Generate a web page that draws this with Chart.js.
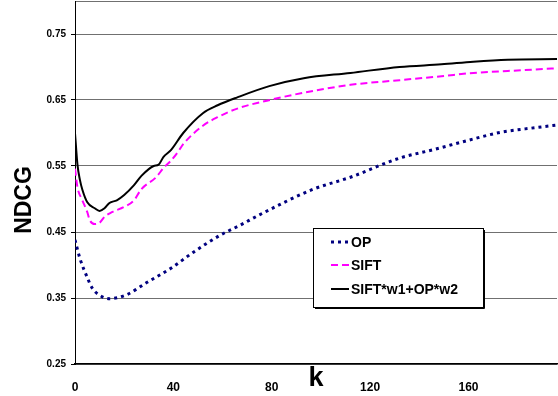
<!DOCTYPE html>
<html>
<head>
<meta charset="utf-8">
<script src="https://cdn.jsdelivr.net/npm/chart.js@4/dist/chart.umd.min.js"></script>
<style>
html,body{margin:0;padding:0;background:#fff;}
#wrap{width:558px;height:396px;position:relative;}
</style>
</head>
<body>
<div id="wrap"><canvas id="c"></canvas></div>
<script>
// ---- data ----
const xTicks = [0, 40, 80, 120, 160];
const yTicks = [0.25, 0.35, 0.45, 0.55, 0.65, 0.75];

const kOP   = [0, 2, 5, 7, 11, 14, 21, 29, 39, 48, 59, 67, 75, 97, 112, 132, 146, 160, 173, 187, 196];
const vOP   = [0.438, 0.410, 0.381, 0.365, 0.352, 0.349, 0.355, 0.373, 0.395, 0.419, 0.445, 0.460, 0.476, 0.515, 0.533, 0.562, 0.575, 0.589, 0.601, 0.608, 0.612];

const kSIFT = [0, 1, 3, 5, 6, 8, 10, 12, 15, 20, 24, 27, 33, 36, 39, 42, 44, 52, 58, 66, 78, 93, 112, 132, 149, 162, 176, 196];
const vSIFT = [0.546, 0.518, 0.498, 0.480, 0.468, 0.462, 0.464, 0.473, 0.480, 0.488, 0.498, 0.515, 0.533, 0.547, 0.558, 0.572, 0.583, 0.611, 0.624, 0.637, 0.649, 0.661, 0.673, 0.680, 0.686, 0.691, 0.694, 0.698];

const kComb = [0, 1, 2, 3, 5, 8, 10, 12, 14, 17, 20, 24, 27, 32, 34, 36, 39, 44, 52, 58, 66, 79, 93, 112, 132, 149, 162, 176, 196];
const vComb = [0.600, 0.552, 0.529, 0.514, 0.495, 0.486, 0.482, 0.486, 0.494, 0.498, 0.506, 0.521, 0.535, 0.550, 0.552, 0.564, 0.574, 0.600, 0.630, 0.642, 0.654, 0.671, 0.683, 0.691, 0.700, 0.704, 0.708, 0.711, 0.712];

const seriesNames = ['OP', 'SIFT', 'SIFT*w1+OP*w2'];
const xTitle = 'k';
const yTitle = 'NDCG';

function pts(ks, vs){ return ks.map((k,i)=>({x:k, y:vs[i]})); }

const FONT = '"Liberation Sans", Arial, sans-serif';

// custom legend drawn inside plot area
const boxLegend = {
  id: 'boxLegend',
  afterDraw(chart){
    const ctx = chart.ctx;
    const x0 = 313, y0 = 228, w = 170, h = 79;
    ctx.save();
    ctx.fillStyle = '#fff';
    ctx.fillRect(x0, y0, w, h);
    ctx.strokeStyle = '#000';
    ctx.lineWidth = 1;
    ctx.strokeRect(x0 + 0.5, y0 + 0.5, w, h);
    ctx.beginPath();
    ctx.moveTo(x0 + w + 1.5, y0 + 2); ctx.lineTo(x0 + w + 1.5, y0 + h + 1.5); ctx.lineTo(x0 + 2, y0 + h + 1.5);
    ctx.stroke();
    const rows = [242, 265, 289];
    chart.data.datasets.forEach((ds, i) => {
      const y = rows[i];
      ctx.beginPath();
      ctx.strokeStyle = ds.borderColor;
      ctx.lineWidth = ds.borderWidth;
      ctx.setLineDash(ds.borderDash || []);
      ctx.lineCap = 'butt';
      ctx.moveTo(331, y); ctx.lineTo(349, y);
      ctx.stroke();
      ctx.setLineDash([]);
      ctx.fillStyle = '#000';
      ctx.font = 'bold 14px ' + FONT;
      ctx.textBaseline = 'middle';
      ctx.textAlign = 'left';
      ctx.fillText(ds.label, 351, y + 1);
    });
    // rotated y title
    ctx.translate(25, 200);
    ctx.rotate(-Math.PI / 2);
    ctx.font = 'bold 23px ' + FONT;
    ctx.textAlign = 'center';
    ctx.textBaseline = 'middle';
    ctx.fillText(yTitle, 0, 0);
    ctx.restore();
  }
};

new Chart(document.getElementById('c'), {
  type: 'line',
  data: {
    datasets: [
      { label: seriesNames[0], data: pts(kOP, vOP), borderColor: '#000080', borderWidth: 3, borderDash: [3, 4], pointRadius: 0, fill: false, cubicInterpolationMode: 'monotone' },
      { label: seriesNames[1], data: pts(kSIFT, vSIFT), borderColor: '#FF00FF', borderWidth: 2, borderDash: [7, 4], pointRadius: 0, fill: false, cubicInterpolationMode: 'monotone' },
      { label: seriesNames[2], data: pts(kComb, vComb), borderColor: '#000000', borderWidth: 2, pointRadius: 0, fill: false, cubicInterpolationMode: 'monotone' }
    ]
  },
  options: {
    responsive: true,
    maintainAspectRatio: false,
    animation: false,
    layout: { padding: { top: 1, right: 1, bottom: 0, left: 0 } },
    plugins: { legend: { display: false }, tooltip: { enabled: false } },
    scales: {
      x: {
        type: 'linear',
        min: 0, max: 196,
        afterBuildTicks(scale){ scale.ticks = xTicks.map(v => ({value: v})); },
        afterFit(scale){ scale.height = 32; scale.paddingLeft = 0; scale.paddingRight = 0; },
        grid: { display: false },
        border: { display: true, color: '#000', width: 1.5 },
        ticks: { color: '#000', font: { family: FONT, size: 12, weight: 'bold' }, padding: 8, maxRotation: 0, autoSkip: false },
        title: { display: true, text: xTitle, color: '#000', font: { family: FONT, size: 27, weight: 'bold' }, padding: { top: 0, bottom: 1 } }
      },
      y: {
        type: 'linear',
        min: 0.25, max: 0.8,
        afterBuildTicks(scale){ scale.ticks = yTicks.concat([0.8]).map(v => ({value: v})); },
        afterFit(scale){ scale.width = 75; scale.paddingTop = 0; scale.paddingBottom = 0; },
        grid: {
          color: '#707070', lineWidth: 1, drawTicks: true, tickLength: 4,
          tickColor: (c) => (c.tick && c.tick.value > 0.79) ? 'rgba(0,0,0,0)' : '#000'
        },
        border: { display: true, color: '#000', width: 1 },
        ticks: {
          color: '#000', padding: 5, autoSkip: false,
          font: { family: FONT, size: 10, weight: 'bold' },
          callback: (v) => v > 0.79 ? '' : v.toFixed(2)
        }
      }
    }
  },
  plugins: [boxLegend]
});
</script>
</body>
</html>
